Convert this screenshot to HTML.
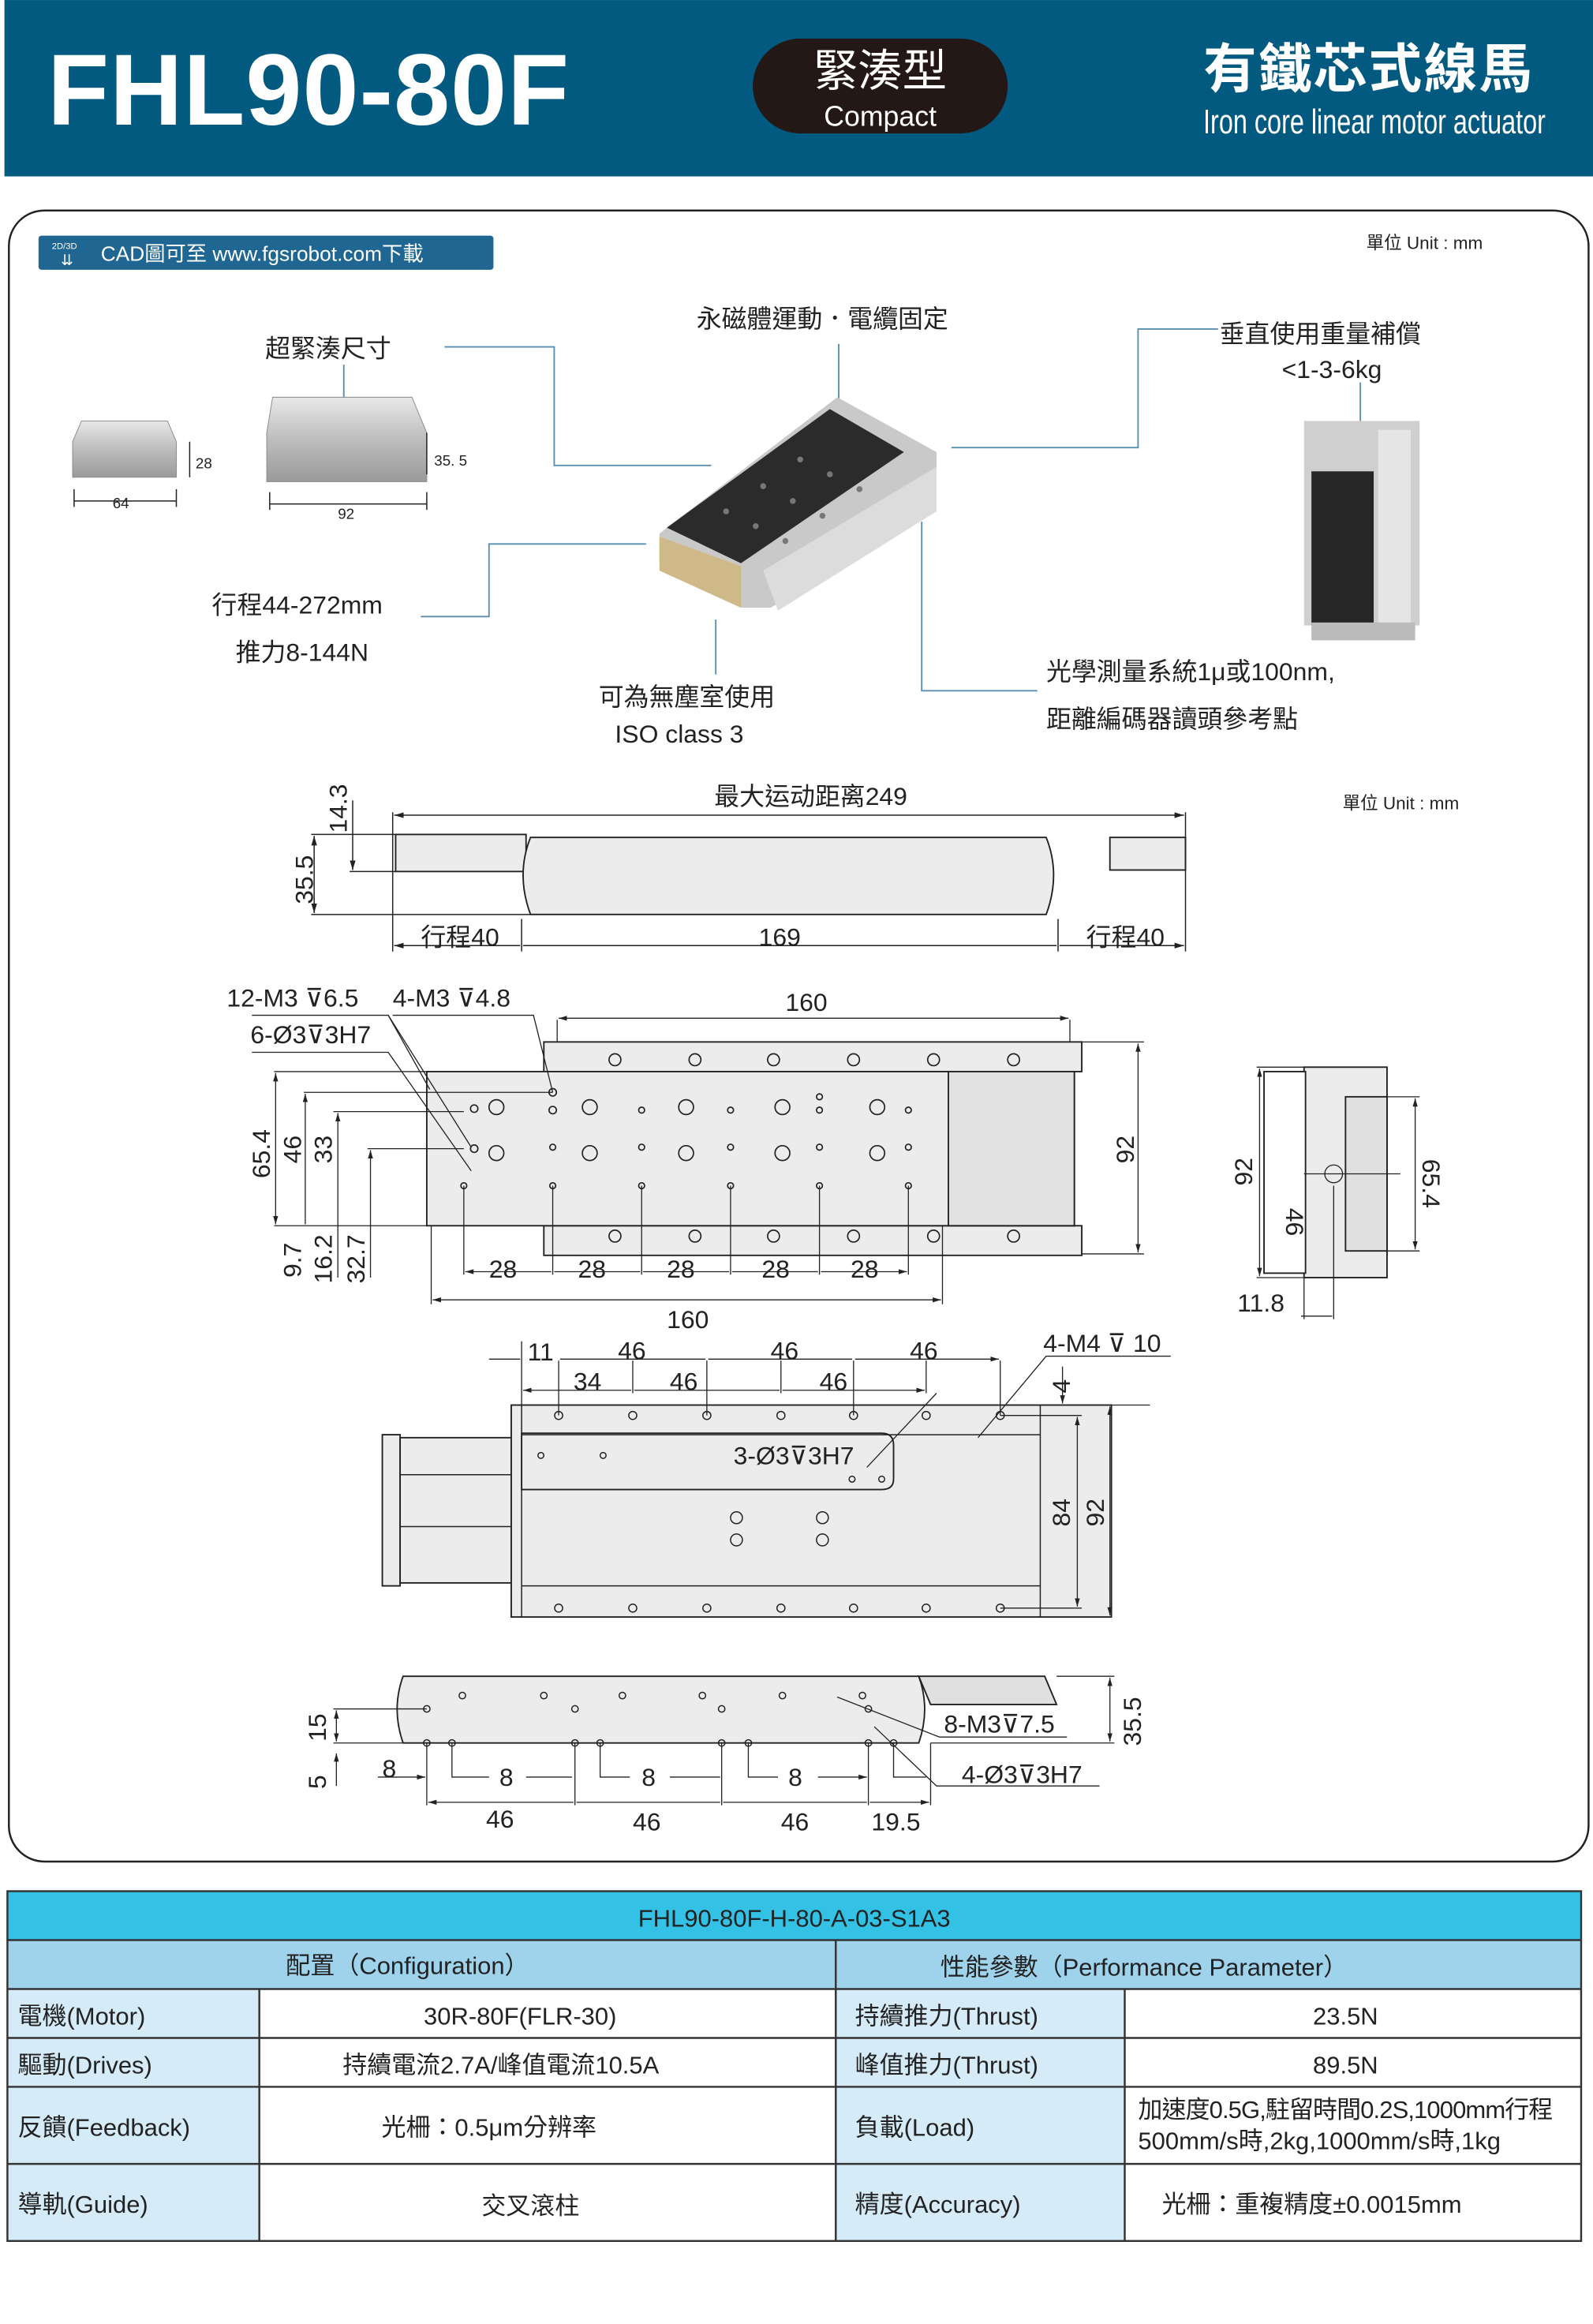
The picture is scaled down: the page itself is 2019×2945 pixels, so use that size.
<!DOCTYPE html>
<html><head><meta charset="utf-8"><style>
html,body{margin:0;padding:0;background:#fff}
svg{display:block}
text{font-family:"Liberation Sans","DejaVu Sans","Noto Sans CJK TC",sans-serif;fill:#222}
</style></head><body>
<svg width="2019" height="2945" viewBox="0 0 1075 1568" xmlns="http://www.w3.org/2000/svg">
<defs>
<marker id="a" viewBox="0 0 10 6" refX="10" refY="3" markerWidth="8" markerHeight="5" orient="auto-start-reverse"><path d="M0,0L10,3L0,6z" fill="#222"/></marker>
<linearGradient id="met" x1="0" y1="0" x2="0" y2="1"><stop offset="0" stop-color="#e8e8e8"/><stop offset="0.5" stop-color="#bdbdbd"/><stop offset="1" stop-color="#9a9a9a"/></linearGradient>
</defs>
<!-- header -->
<rect x="3" y="0" width="1072" height="119" fill="#025a80"/>
<text x="32" y="84" font-size="68" font-weight="bold" style="fill:#fff" textLength="352">FHL90-80F</text>
<rect x="508" y="26" width="172" height="64" rx="32" fill="#231815"/>
<text x="594" y="58" font-size="30" text-anchor="middle" style="fill:#fff">緊湊型</text>
<text x="594" y="85" font-size="19" text-anchor="middle" style="fill:#fff">Compact</text>
<text x="812" y="59" font-size="36" font-weight="bold" style="fill:#fff" textLength="222">有鐵芯式線馬</text>
<text x="812" y="90" font-size="23" style="fill:#fff" textLength="231" lengthAdjust="spacingAndGlyphs">Iron core linear motor actuator</text>
<!-- frame -->
<path d="M30,142H1048a24,24 0 0 1 24,24V1232a24,24 0 0 1 -24,24H30a24,24 0 0 1 -24,-24V166a24,24 0 0 1 24,-24z" fill="none" stroke="#222" stroke-width="1.3"/>
<rect x="26" y="159" width="307" height="23" rx="2" fill="#1f6792"/>
<text x="35" y="168" font-size="6" style="fill:#fff">2D/3D</text>
<text x="41" y="179" font-size="10" style="fill:#fff">⇊</text>
<text x="68" y="176" font-size="14" style="fill:#fff">CAD圖可至 www.fgsrobot.com下載</text>
<text x="922" y="168" font-size="12">單位 Unit : mm</text>
<text x="906" y="546" font-size="12">單位 Unit : mm</text>
<!-- callouts -->
<g font-size="17">
<text x="179" y="241">超緊湊尺寸</text>
<text x="470" y="221">永磁體運動．電纜固定</text>
<text x="823" y="231">垂直使用重量補償</text>
<text x="865" y="255">&lt;1-3-6kg</text>
<text x="143" y="414">行程44-272mm</text>
<text x="159" y="446">推力8-144N</text>
<text x="404" y="476">可為無塵室使用</text>
<text x="415" y="501">ISO class 3</text>
<text x="706" y="459">光學測量系統1μ或100nm,</text>
<text x="706" y="491">距離編碼器讀頭參考點</text>
</g>
<g stroke="#5a8fb0" stroke-width="1" fill="none">
<path d="M300,234H374V314H480"/><path d="M566,232V270"/><path d="M822,222H768V302H642"/>
<path d="M232,246V270"/><path d="M436,367H330V416H284"/><path d="M483,418V455"/><path d="M622,352V466H700"/><path d="M918,258V285"/>
</g>
<!-- small product photos -->
<path d="M55,284H113L119,298V322H49V298z" fill="url(#met)" stroke="#888" stroke-width=".5"/>
<path d="M184,268H278L288,292V325H180V292z" fill="url(#met)" stroke="#888" stroke-width=".5"/>
<g stroke="#222" stroke-width=".8" fill="none"><path d="M50,330V342M119,330V342M50,338H119"/><path d="M182,332V344M288,332V344M182,340H288"/><path d="M128,298V322"/><path d="M288,292V320"/></g>
<text x="76" y="343" font-size="10">64</text><text x="228" y="350" font-size="10">92</text>
<text x="132" y="316" font-size="10">28</text><text x="293" y="314" font-size="10">35. 5</text>
<!-- main product -->
<path d="M445,360L565,268L632,305L632,345L520,410L500,410L445,380z" fill="#c9c9c9"/>
<path d="M450,356L560,276L610,305L500,380z" fill="#2b2b2b"/>
<g fill="#777"><circle cx="490" cy="345" r="2"/><circle cx="515" cy="328" r="2"/><circle cx="540" cy="310" r="2"/><circle cx="510" cy="355" r="2"/><circle cx="535" cy="338" r="2"/><circle cx="560" cy="320" r="2"/><circle cx="530" cy="365" r="2"/><circle cx="555" cy="348" r="2"/><circle cx="580" cy="330" r="2"/></g>
<path d="M445,362L500,382L500,410L445,385z" fill="#cfb989"/>
<path d="M515,385L632,315L632,345L525,412z" fill="#dcdcdc"/>
<!-- vertical product -->
<rect x="880" y="284" width="78" height="138" fill="#cfcfcf"/>
<rect x="885" y="318" width="42" height="104" fill="#262626"/>
<rect x="930" y="290" width="22" height="130" fill="#e5e5e5"/>
<rect x="885" y="420" width="70" height="12" fill="#bbb"/>
<!-- side view -->
<g stroke="#222" stroke-width="1" fill="#ececec">
<rect x="267" y="563" width="88" height="25"/>
<path d="M358,565H706Q716,590 706,617H358Q348,590 358,565z"/>
<rect x="749" y="565" width="51" height="22"/>
</g>
<g stroke="#222" stroke-width=".8" fill="none">
<path d="M265,548V642M800,548V642M352,620V642M714,620V642"/>
<path d="M266,550H799" marker-start="url(#a)" marker-end="url(#a)"/>
<path d="M266,638H351M353,638H713M715,638H799" marker-start="url(#a)" marker-end="url(#a)"/>
<path d="M210,563H267M210,617H358M236,588H267"/>
<path d="M212,564V616" marker-start="url(#a)" marker-end="url(#a)"/>
<path d="M238,540V587" marker-end="url(#a)"/>
</g>
<g font-size="17">
<text x="482" y="543">最大运动距离249</text>
<text x="284" y="638">行程40</text><text x="512" y="638">169</text><text x="733" y="638">行程40</text>
<text transform="translate(211,610) rotate(-90)">35.5</text>
<text transform="translate(234,562) rotate(-90)">14.3</text>
</g>
<!-- top plan view -->
<g stroke="#222" stroke-width="1" fill="#ececec">
<rect x="367" y="703" width="363" height="20"/>
<rect x="367" y="827" width="363" height="20"/>
<rect x="288" y="723" width="437" height="104"/>
<rect x="640" y="723" width="85" height="104" fill="#e2e2e2"/>
</g>
<g stroke="#222" stroke-width=".9" fill="none">
<circle cx="415" cy="715" r="4"/><circle cx="469" cy="715" r="4"/><circle cx="522" cy="715" r="4"/><circle cx="576" cy="715" r="4"/><circle cx="630" cy="715" r="4"/><circle cx="684" cy="715" r="4"/>
<circle cx="415" cy="834" r="4"/><circle cx="469" cy="834" r="4"/><circle cx="522" cy="834" r="4"/><circle cx="576" cy="834" r="4"/><circle cx="630" cy="834" r="4"/><circle cx="684" cy="834" r="4"/>
<circle cx="335" cy="747" r="5"/><circle cx="398" cy="747" r="5"/><circle cx="463" cy="747" r="5"/><circle cx="528" cy="747" r="5"/><circle cx="592" cy="747" r="5"/>
<circle cx="335" cy="778" r="5"/><circle cx="398" cy="778" r="5"/><circle cx="463" cy="778" r="5"/><circle cx="528" cy="778" r="5"/><circle cx="592" cy="778" r="5"/>
<circle cx="320" cy="748" r="2.5"/><circle cx="373" cy="749" r="2.5"/><circle cx="433" cy="749" r="2"/><circle cx="493" cy="749" r="2"/><circle cx="553" cy="740" r="2"/><circle cx="553" cy="749" r="2"/><circle cx="613" cy="749" r="2"/>
<circle cx="320" cy="775" r="2.5"/><circle cx="373" cy="774" r="2"/><circle cx="433" cy="774" r="2"/><circle cx="493" cy="774" r="2"/><circle cx="553" cy="774" r="2"/><circle cx="613" cy="774" r="2"/>
<circle cx="373" cy="737" r="2.5"/>
<circle cx="313" cy="800" r="2"/><circle cx="373" cy="800" r="2"/><circle cx="433" cy="800" r="2"/><circle cx="493" cy="800" r="2"/><circle cx="553" cy="800" r="2"/><circle cx="613" cy="800" r="2"/>
</g>
<g stroke="#222" stroke-width=".7" fill="none">
<path d="M376,688V703M722,688V703"/><path d="M377,687H721" marker-start="url(#a)" marker-end="url(#a)"/>
<path d="M730,703H772M730,846H772"/><path d="M768,704V845" marker-start="url(#a)" marker-end="url(#a)"/>
<path d="M185,723H288M205,737H373M225,750H313M248,775H313M185,827H288"/>
<path d="M186,724V826" marker-start="url(#a)" marker-end="url(#a)"/>
<path d="M206,738V826" marker-start="url(#a)"/><path d="M228,751V862" marker-start="url(#a)"/><path d="M250,776V862" marker-start="url(#a)"/>
<path d="M313,800V860M373,800V860M433,800V860M493,800V860M553,800V860M613,800V860"/>
<path d="M314,858H372M374,858H432M434,858H492M494,858H552M554,858H612" marker-start="url(#a)" marker-end="url(#a)"/>
<path d="M291,827V880M636,827V880"/><path d="M292,877H635" marker-start="url(#a)" marker-end="url(#a)"/>
<path d="M170,685H262L318,774"/><path d="M265,685H360L373,737"/><path d="M170,710H262L318,790"/>
<path d="M262,685L290,735"/>
</g>
<g font-size="17">
<text x="530" y="682">160</text>
<text x="153" y="679">12-M3 ⊽6.5</text><text x="265" y="679">4-M3 ⊽4.8</text>
<text x="169" y="704">6-Ø3⊽3H7</text>
<text transform="translate(765,785) rotate(-90)">92</text>
<text transform="translate(182,795) rotate(-90)">65.4</text>
<text transform="translate(203,785) rotate(-90)">46</text>
<text transform="translate(224,785) rotate(-90)">33</text>
<text transform="translate(203,862) rotate(-90)">9.7</text>
<text transform="translate(224,866) rotate(-90)">16.2</text>
<text transform="translate(246,866) rotate(-90)">32.7</text>
<text x="330" y="862">28</text><text x="390" y="862">28</text><text x="450" y="862">28</text><text x="514" y="862">28</text><text x="574" y="862">28</text>
<text x="450" y="896">160</text>
</g>
<!-- end view -->
<g stroke="#222" stroke-width="1" fill="#ececec">
<rect x="880" y="720" width="56" height="142"/><rect x="908" y="740" width="28" height="104" fill="#e0e0e0"/>
<rect x="853" y="723" width="28" height="136" fill="#fff"/>
</g>
<g stroke="#222" stroke-width=".7" fill="none">
<circle cx="900" cy="792" r="6"/><path d="M880,792H945"/>
<path d="M848,720H880M848,862H880M936,740H958M936,844H958"/>
<path d="M850,721V861" marker-start="url(#a)" marker-end="url(#a)"/>
<path d="M955,741V843" marker-start="url(#a)" marker-end="url(#a)"/>
<path d="M880,862V890M900,800V890M878,888H899" />
</g>
<g font-size="17">
<text transform="translate(845,800) rotate(-90)">92</text>
<text transform="translate(868,815) rotate(90)">46</text>
<text transform="translate(960,782) rotate(90)">65.4</text>
<text x="835" y="885">11.8</text>
</g>
<!-- bottom view -->
<g stroke="#222" stroke-width="1" fill="#ececec">
<rect x="258" y="968" width="12" height="102"/>
<rect x="270" y="970" width="76" height="98"/>
<rect x="345" y="948" width="405" height="143"/>
<path d="M352,967H595Q603,967 603,975V998Q603,1005 595,1005H352z"/>
</g>
<g stroke="#222" stroke-width=".8" fill="none">
<path d="M352,948V1091M702,948V1091M352,968H702M352,1070H702M270,995H345M270,1030H345"/>
<circle cx="377" cy="955" r="2.7"/><circle cx="427" cy="955" r="2.7"/><circle cx="477" cy="955" r="2.7"/><circle cx="527" cy="955" r="2.7"/><circle cx="576" cy="955" r="2.7"/><circle cx="625" cy="955" r="2.7"/><circle cx="675" cy="955" r="2.7"/>
<circle cx="377" cy="1085" r="2.7"/><circle cx="427" cy="1085" r="2.7"/><circle cx="477" cy="1085" r="2.7"/><circle cx="527" cy="1085" r="2.7"/><circle cx="576" cy="1085" r="2.7"/><circle cx="625" cy="1085" r="2.7"/><circle cx="675" cy="1085" r="2.7"/>
<circle cx="365" cy="982" r="2"/><circle cx="407" cy="982" r="2"/><circle cx="575" cy="998" r="2"/><circle cx="595" cy="998" r="2"/>
<circle cx="497" cy="1024" r="4"/><circle cx="555" cy="1024" r="4"/><circle cx="497" cy="1039" r="4"/><circle cx="555" cy="1039" r="4"/>
</g>
<g stroke="#222" stroke-width=".7" fill="none">
<path d="M377,918V955M427,918V940M477,918V955M527,918V940M576,918V955M625,918V940M675,918V955M352,905V948"/>
<path d="M330,917H351M378,917H476M478,917H575M577,917H674" marker-end="url(#a)"/>
<path d="M353,938H426M428,938H526M528,938H624" marker-start="url(#a)" marker-end="url(#a)"/>
<path d="M750,948H776M675,955H730M675,1085H730"/>
<path d="M727,956V1084" marker-start="url(#a)" marker-end="url(#a)"/>
<path d="M749,949V1090" marker-start="url(#a)" marker-end="url(#a)"/>
<path d="M717,922V947" marker-end="url(#a)"/>
<path d="M790,915H706L660,970"/><path d="M585,990L632,940"/>
</g>
<g font-size="17">
<text x="356" y="918">11</text><text x="417" y="917">46</text><text x="520" y="917">46</text><text x="614" y="917">46</text>
<text x="387" y="938">34</text><text x="452" y="938">46</text><text x="553" y="938">46</text>
<text x="704" y="912">4-M4 ⊽ 10</text>
<text x="495" y="988">3-Ø3⊽3H7</text>
<text transform="translate(722,940) rotate(-90)">4</text>
<text transform="translate(722,1030) rotate(-90)">84</text>
<text transform="translate(745,1030) rotate(-90)">92</text>
</g>
<!-- front view -->
<g stroke="#222" stroke-width="1" fill="#ececec">
<path d="M272,1131H620Q628,1153 620,1176H272Q264,1153 272,1131z"/>
<path d="M620,1131H705L713,1150H628z" fill="#e0e0e0"/>
</g>
<g stroke="#222" stroke-width=".8" fill="none">
<circle cx="312" cy="1144" r="2.2"/><circle cx="367" cy="1144" r="2.2"/><circle cx="420" cy="1144" r="2.2"/><circle cx="474" cy="1144" r="2.2"/><circle cx="528" cy="1144" r="2.2"/><circle cx="582" cy="1144" r="2.2"/>
<circle cx="288" cy="1153" r="2.2"/><circle cx="388" cy="1153" r="2.2"/><circle cx="487" cy="1153" r="2.2"/><circle cx="586" cy="1153" r="2.2"/>
<circle cx="288" cy="1176" r="2.2"/><circle cx="305" cy="1176" r="2.2"/><circle cx="388" cy="1176" r="2.2"/><circle cx="405" cy="1176" r="2.2"/><circle cx="487" cy="1176" r="2.2"/><circle cx="505" cy="1176" r="2.2"/><circle cx="586" cy="1176" r="2.2"/><circle cx="603" cy="1176" r="2.2"/>
</g>
<g stroke="#222" stroke-width=".7" fill="none">
<path d="M225,1153H288M225,1176H288M713,1131H752M628,1176H752"/>
<path d="M227,1154V1175" marker-start="url(#a)" marker-end="url(#a)"/>
<path d="M227,1205V1183" marker-end="url(#a)"/>
<path d="M749,1132V1175" marker-start="url(#a)" marker-end="url(#a)"/>
<path d="M288,1176V1218M388,1176V1218M487,1176V1218M586,1176V1218M628,1176V1218"/>
<path d="M289,1216H387M389,1216H486M488,1216H585M587,1216H627" marker-start="url(#a)" marker-end="url(#a)"/>
<path d="M255,1199H287" marker-end="url(#a)"/><path d="M305,1176V1199H330"/><path d="M405,1176V1199H425"/><path d="M505,1176V1199H525"/><path d="M603,1176V1199H625"/>
<path d="M355,1199H386M452,1199H486M552,1199H585" marker-end="url(#a)"/>
<path d="M720,1172H634L565,1145"/><path d="M742,1205H632L590,1165"/>
</g>
<g font-size="17">
<text transform="translate(220,1175) rotate(-90)">15</text>
<text transform="translate(220,1207) rotate(-90)">5</text>
<text transform="translate(770,1178) rotate(-90)">35.5</text>
<text x="258" y="1199">8</text><text x="337" y="1205">8</text><text x="433" y="1205">8</text><text x="532" y="1205">8</text>
<text x="328" y="1233">46</text><text x="427" y="1235">46</text><text x="527" y="1235">46</text><text x="588" y="1235">19.5</text>
<text x="637" y="1169">8-M3⊽7.5</text><text x="649" y="1203">4-Ø3⊽3H7</text>
</g>
<!-- table -->
<rect x="5" y="1276" width="1062" height="33" fill="#33c1e6"/>
<rect x="5" y="1309" width="1062" height="33" fill="#9fd3ec"/>
<rect x="5" y="1342" width="170" height="170" fill="#d6ebf8"/>
<rect x="564" y="1342" width="195" height="170" fill="#d6ebf8"/>
<g stroke="#333" stroke-width="1.3" fill="none">
<rect x="5" y="1276" width="1062" height="236"/>
<path d="M5,1309H1067M5,1342H1067M5,1375H1067M5,1408H1067M5,1460H1067"/>
<path d="M564,1309V1512M175,1342V1512M759,1342V1512"/>
</g>
<g font-size="16.5">
<text x="536" y="1300" text-anchor="middle">FHL90-80F-H-80-A-03-S1A3</text>
<text x="275" y="1332" text-anchor="middle">配置（Configuration）</text>
<text x="772" y="1333" text-anchor="middle">性能參數（Performance Parameter）</text>
<text x="12" y="1366">電機(Motor)</text><text x="351" y="1366" text-anchor="middle">30R-80F(FLR-30)</text>
<text x="577" y="1366">持續推力(Thrust)</text><text x="908" y="1366" text-anchor="middle">23.5N</text>
<text x="12" y="1399">驅動(Drives)</text><text x="338" y="1399" text-anchor="middle">持續電流2.7A/峰值電流10.5A</text>
<text x="577" y="1399">峰值推力(Thrust)</text><text x="908" y="1399" text-anchor="middle">89.5N</text>
<text x="12" y="1441">反饋(Feedback)</text><text x="330" y="1441" text-anchor="middle">光柵：0.5μm分辨率</text>
<text x="577" y="1441">負載(Load)</text>
<text x="768" y="1429" textLength="280">加速度0.5G,駐留時間0.2S,1000mm行程</text>
<text x="768" y="1450">500mm/s時,2kg,1000mm/s時,1kg</text>
<text x="12" y="1493">導軌(Guide)</text><text x="358" y="1494" text-anchor="middle">交叉滾柱</text>
<text x="577" y="1493">精度(Accuracy)</text><text x="784" y="1493">光柵：重複精度±0.0015mm</text>
</g>
</svg>
</body></html>
